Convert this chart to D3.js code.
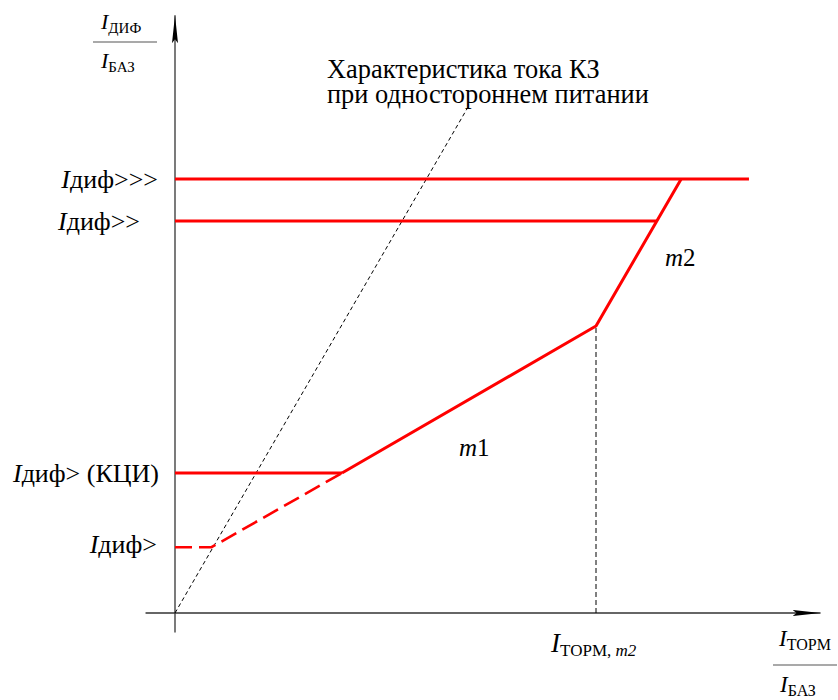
<!DOCTYPE html>
<html>
<head>
<meta charset="utf-8">
<script src="https://cdn.jsdelivr.net/npm/d3@7"></script>
<style>
  html, body { margin: 0; padding: 0; background: #fff; }
</style>
</head>
<body>
<svg id="chart" width="838" height="700" font-family="'Liberation Serif', 'Times New Roman', Tinos, 'DejaVu Serif', serif"></svg>
<script>
// Threshold levels of the differential protection (relative units of I_БАЗ)
const levelNames  = ["диф>>>", "диф>>", "диф> (КЦИ)", "диф>"];
const levelValues = [3.1, 2.8, 1.0, 0.47];

// Restraint characteristic break points (x = Iторм / Iбаз, y = Iдиф / Iбаз)
const pickupDashed = [[0, 0.47], [0.26, 0.47], [1.19, 1.0]];   // basic pickup part, dashed
const kciLine      = [[0, 1.0], [1.19, 1.0]];                   // pickup with CT saturation detection
const slopeLine    = [[1.19, 1.0], [3.0, 2.05], [3.607, 3.1]];  // m1 and m2 sections
const highLine     = [[0, 2.8], [3.433, 2.8]];                  // Iдиф>> level
const instLine     = [[0, 3.1], [4.09, 3.1]];                   // Iдиф>>> level

// Fault current with single-end infeed
const faultLine = [[0, 0], [2.086, 3.61]];

// Restraint current where slope m2 begins
const kneeM2 = [3.0, 2.05];

// Axis extents
const xAxisExtent = [-0.21, 4.6];
const yAxisExtent = [-0.14, 4.27];

const svg = d3.select("#chart");

const x = d3.scaleLinear().domain([0, 3]).range([175, 596]);
const y = d3.scaleLinear().domain([0, 1]).range([613, 473]);

const line = d3.line().x(d => x(d[0])).y(d => y(d[1]));

// Arrow heads
const defs = svg.append("defs");
defs.append("marker")
  .attr("id", "arrow")
  .attr("viewBox", "0 0 28 8")
  .attr("refX", 28).attr("refY", 4)
  .attr("markerWidth", 28).attr("markerHeight", 8)
  .attr("markerUnits", "userSpaceOnUse")
  .attr("orient", "auto")
  .append("path")
  .attr("d", "M0,1 L28,4 L0,7 L4,4 Z")
  .attr("fill", "#000");

// Axes
svg.append("line")
  .attr("x1", x(xAxisExtent[0])).attr("y1", y(0))
  .attr("x2", x(xAxisExtent[1])).attr("y2", y(0))
  .attr("stroke", "#333").attr("stroke-width", 1.3)
  .attr("marker-end", "url(#arrow)");
svg.append("line")
  .attr("x1", x(0)).attr("y1", y(yAxisExtent[0]))
  .attr("x2", x(0)).attr("y2", y(yAxisExtent[1]))
  .attr("stroke", "#333").attr("stroke-width", 1.3)
  .attr("marker-end", "url(#arrow)");

// Fault current characteristic
svg.append("path")
  .attr("d", line(faultLine))
  .attr("fill", "none").attr("stroke", "#000")
  .attr("stroke-width", 1).attr("stroke-dasharray", "4,3");

// Drop line from the m2 knee
svg.append("path")
  .attr("d", line([[kneeM2[0], 0], kneeM2]))
  .attr("fill", "none").attr("stroke", "#000")
  .attr("stroke-width", 1).attr("stroke-dasharray", "5,3");

// Tripping characteristic
const red = "#ff0000";
svg.append("path")
  .attr("d", line(pickupDashed))
  .attr("fill", "none").attr("stroke", red)
  .attr("stroke-width", 2.6).attr("stroke-dasharray", "17,7");
[kciLine, slopeLine, highLine, instLine].forEach(seg => {
  svg.append("path")
    .attr("d", line(seg))
    .attr("fill", "none").attr("stroke", red)
    .attr("stroke-width", 3).attr("stroke-linejoin", "round");
});

// Level labels on the vertical axis
const labelRightEdge = [158, 140, 159, 157];
const labelBaseShift = [9, 9, 9, 6];
levelNames.forEach((name, i) => {
  const t = svg.append("text")
    .attr("x", labelRightEdge[i])
    .attr("y", y(levelValues[i]) + labelBaseShift[i])
    .attr("text-anchor", "end")
    .attr("font-size", 26)
    .attr("fill", "#000");
  t.append("tspan").attr("font-style", "italic").text("I");
  t.append("tspan").text(name);
});

// Fault characteristic caption
const caption = svg.append("text")
  .attr("x", 327).attr("y", 78)
  .attr("font-size", 26.4).attr("fill", "#000");
caption.append("tspan").attr("x", 327).text("Характеристика тока КЗ");
caption.append("tspan").attr("x", 327).attr("dy", 24.5).text("при одностороннем питании");

// Slope labels
function slopeLabel(tx, ty, num) {
  const t = svg.append("text").attr("x", tx).attr("y", ty)
    .attr("font-size", 25).attr("fill", "#000");
  t.append("tspan").attr("font-style", "italic").text("m");
  t.append("tspan").text(num);
}
slopeLabel(459, 456, "1");
slopeLabel(665, 266, "2");

// Current with a subscript
function subscripted(tx, ty, size, sub, subSize, subItalicTail) {
  const t = svg.append("text").attr("x", tx).attr("y", ty)
    .attr("font-size", size).attr("fill", "#000");
  t.append("tspan").attr("font-style", "italic").text("I");
  t.append("tspan").attr("font-size", subSize).attr("dy", 4).text(sub);
  if (subItalicTail) {
    t.append("tspan").attr("font-size", subSize).text(", ");
    t.append("tspan").attr("font-size", subSize).attr("font-style", "italic").text(subItalicTail);
  }
  return t;
}

// Vertical axis title
subscripted(101, 29, 22, "ДИФ", 15);
svg.append("line").attr("x1", 93).attr("x2", 157).attr("y1", 42).attr("y2", 42)
  .attr("stroke", "#555").attr("stroke-width", 1.2);
subscripted(101, 68, 22, "БАЗ", 15);

// Horizontal axis title
subscripted(779, 646, 23, "ТОРМ", 16);
svg.append("line").attr("x1", 773).attr("x2", 837).attr("y1", 665).attr("y2", 665)
  .attr("stroke", "#555").attr("stroke-width", 1.2);
subscripted(780, 692, 23, "БАЗ", 16);

// Knee current label
subscripted(551, 652, 27, "ТОРМ", 17, "m2");
</script>
</body>
</html>
